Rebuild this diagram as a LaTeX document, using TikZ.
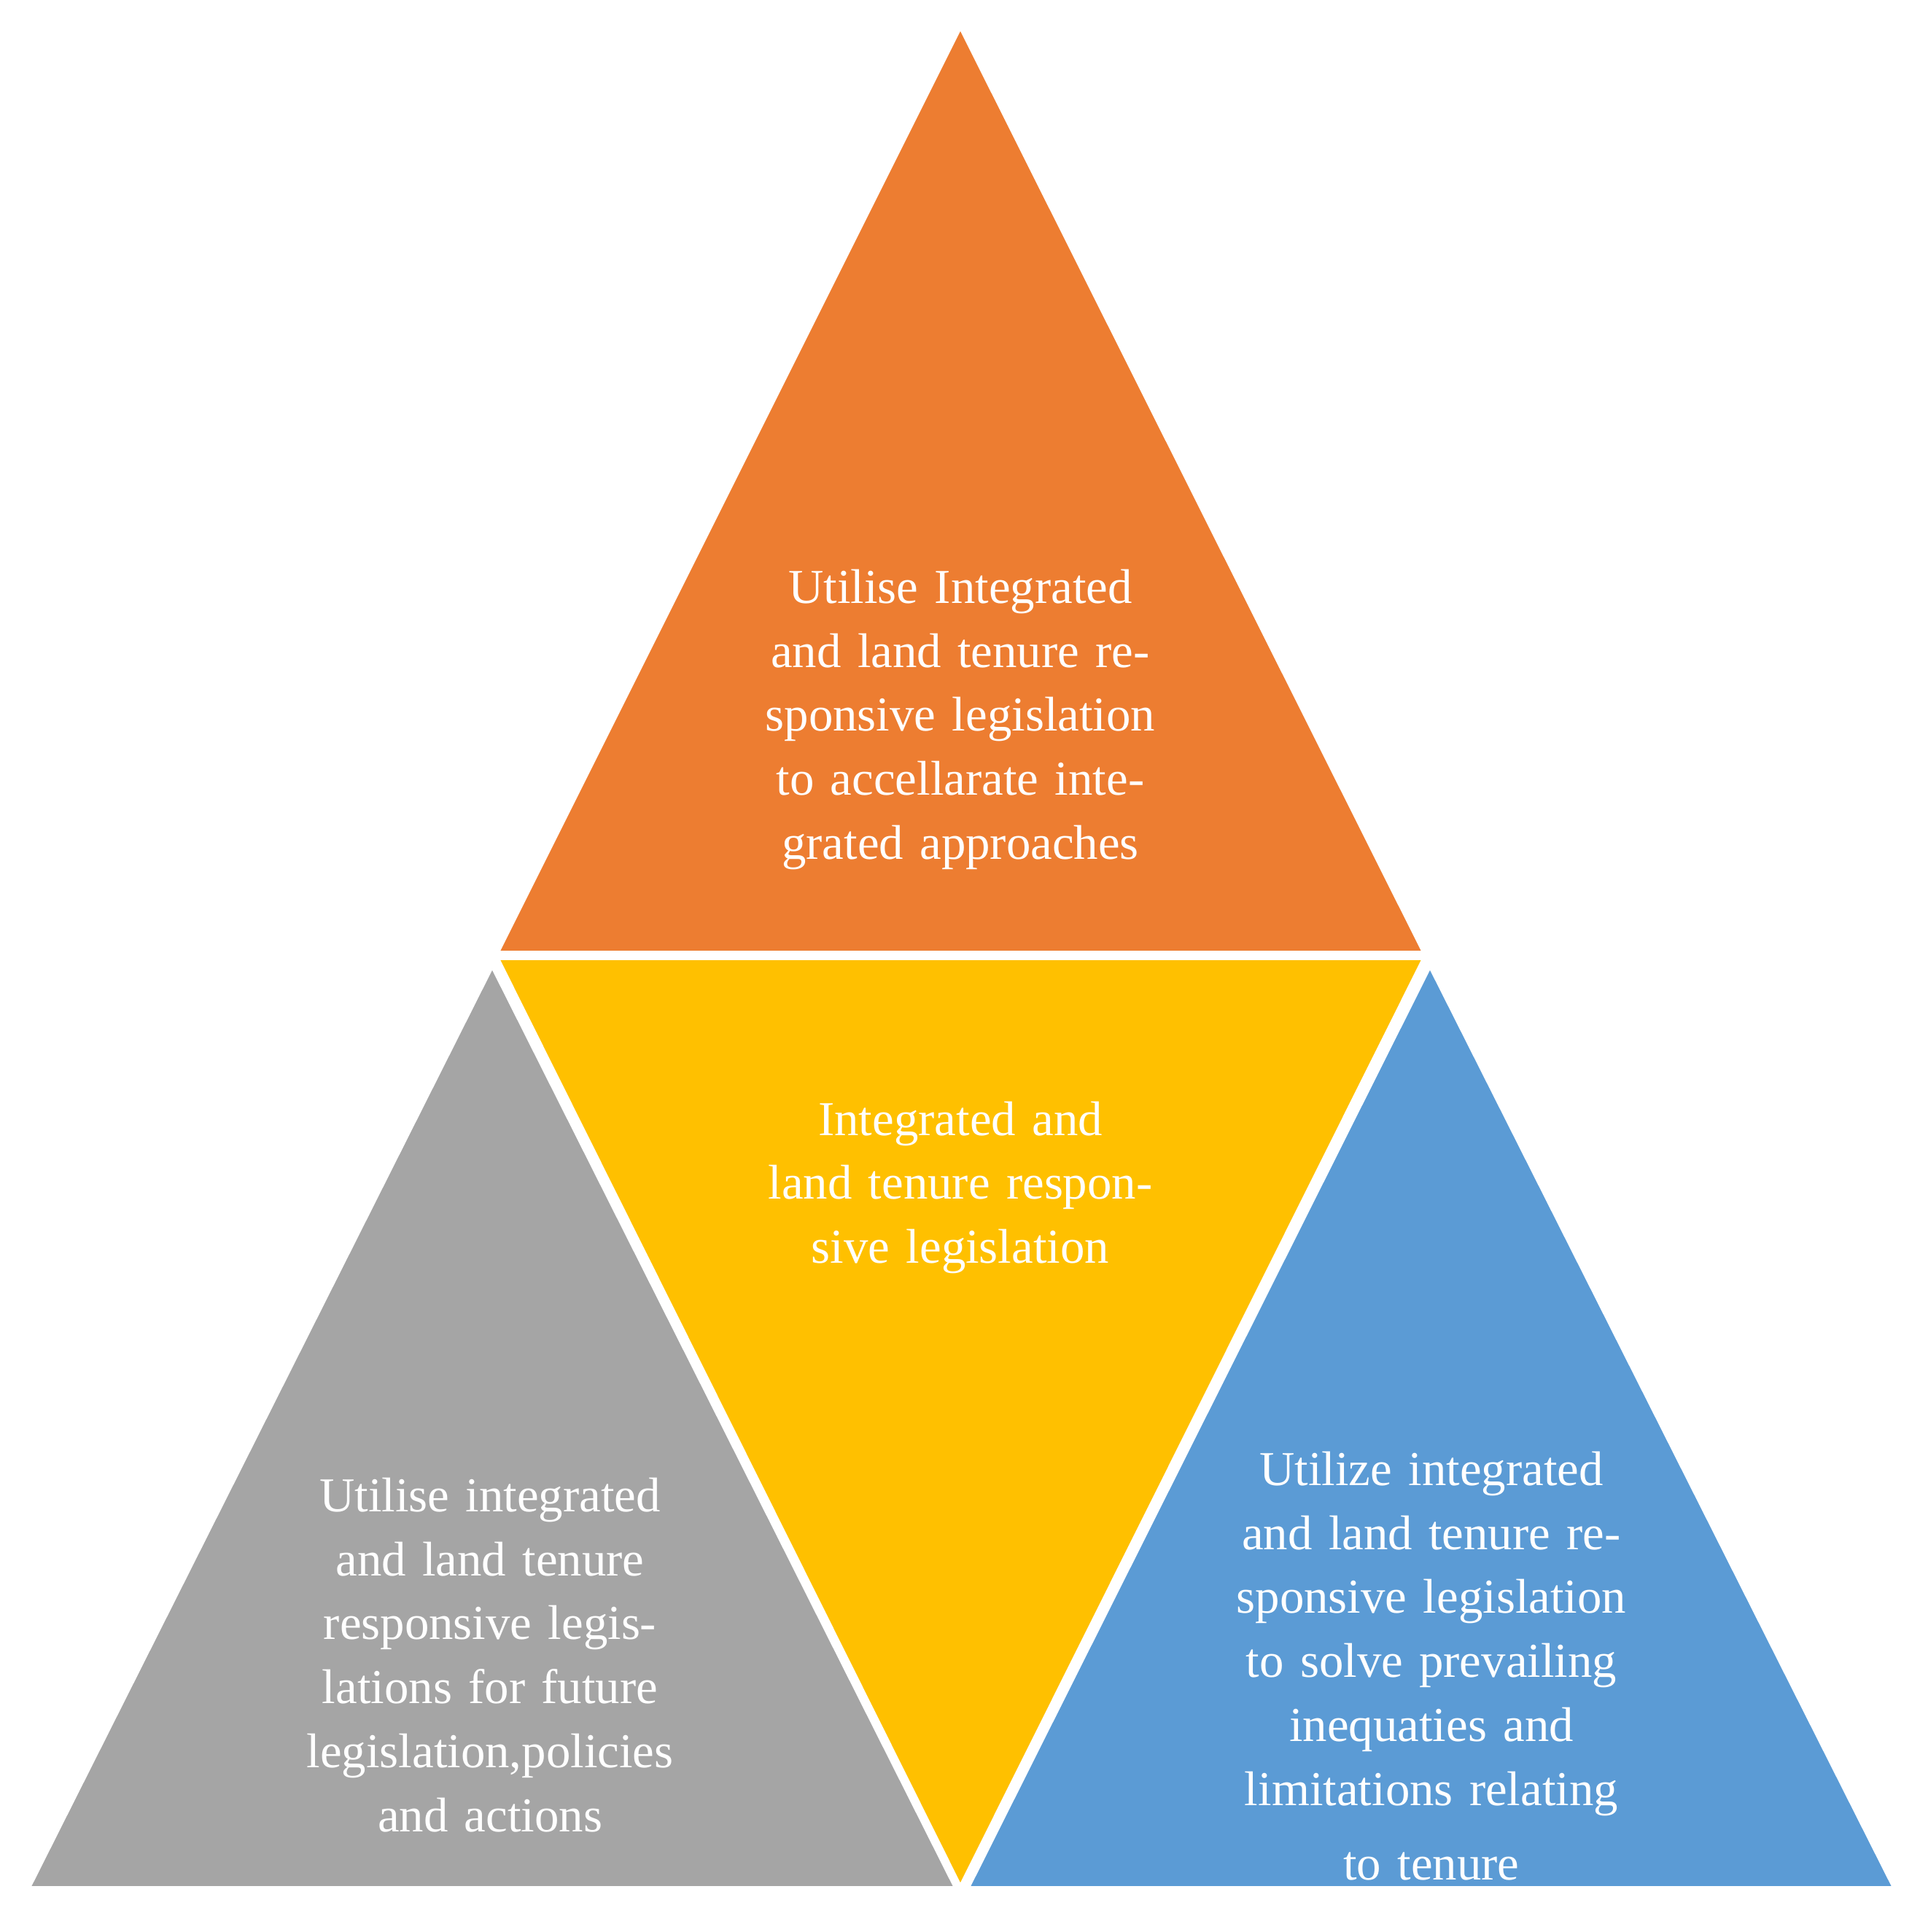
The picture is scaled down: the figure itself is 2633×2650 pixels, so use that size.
\documentclass[tikz,border=0pt]{standalone}
\usepackage{fontspec}
\setmainfont{Liberation Serif}
\definecolor{corange}{HTML}{ED7D31}
\definecolor{cyellow}{HTML}{FFC000}
\definecolor{cgray}{HTML}{A5A5A5}
\definecolor{cblue}{HTML}{5B9BD5}
\begin{document}
\begin{tikzpicture}[x=0.01cm,y=-0.01cm,
  tri/.style={draw=white,line width=2.2pt,line join=miter},
  lbl/.style={text=white,align=center,text width=5.7cm,font=\fontsize{19}{25}\selectfont,inner sep=0pt}]
\useasboundingbox (0,0) rectangle (2633,2650);
\fill[white] (0,0) rectangle (2633,2650);
\filldraw[tri,fill=corange] (1317,34) -- (680,1308) -- (1955,1308) -- cycle;
\filldraw[tri,fill=cyellow] (680,1313) -- (1955,1313) -- (1317,2591) -- cycle;
\filldraw[tri,fill=cgray] (675,1322) -- (37,2591) -- (1313,2591) -- cycle;
\filldraw[tri,fill=cblue] (1961,1322) -- (1325,2591) -- (2600,2591) -- cycle;
\node[lbl] (top) at (1317,987) {Utilise Integrated and land tenure responsive legislation to accellarate integrated approaches};
\node[lbl] (mid) at (1317,1629) {Integrated and land tenure responsive legislation};
\node[lbl] (left) at (672,2270) {Utilise integrated and land tenure responsive legislations for future legislation,policies and actions};
\node[lbl] (right) at (1963,2285) {Utilize integrated and land tenure responsive legislation to solve prevailing inequaties and limitations relating\\[4pt] to tenure};
\end{tikzpicture}
\end{document}
